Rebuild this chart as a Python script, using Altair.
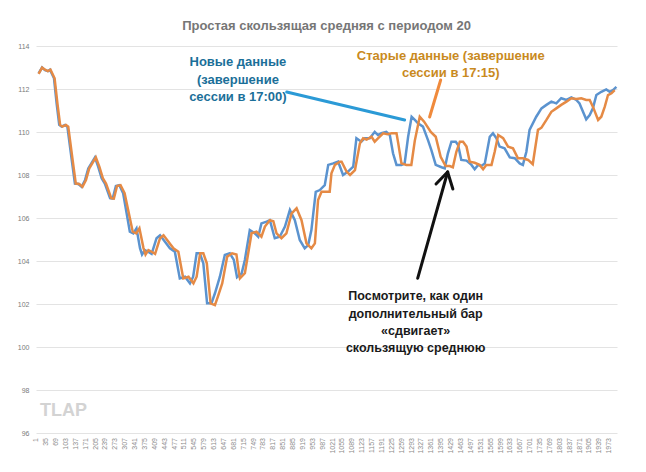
import altair as alt
import pandas as pd

# ---- data (bar index, SMA value) ----
blue_bar = [9, 21, 31, 41, 48, 62, 71, 80, 88, 100, 108, 123, 134, 146, 157, 169, 180, 203, 214, 226,
            237, 255, 264, 275, 287, 300, 323, 335, 346, 358, 365, 375, 386, 398, 415, 427, 444, 461, 478, 495,
            513, 530, 541, 553, 564, 576, 589, 604, 616, 633, 650, 667, 681, 692, 708, 719, 736, 753, 765, 776,
            794, 805, 822, 839, 857, 874, 891, 908, 925, 937, 948, 963, 977, 994, 1006, 1023, 1040, 1057, 1074, 1092,
            1103, 1120, 1132, 1149, 1166, 1177, 1189, 1206, 1218, 1229, 1241, 1258, 1269, 1281, 1293, 1304, 1315, 1332, 1350, 1361,
            1376, 1396, 1407, 1418, 1430, 1445, 1453, 1464, 1482, 1499, 1510, 1522, 1533, 1545, 1562, 1573, 1585, 1596, 1613, 1631,
            1648, 1665, 1676, 1688, 1699, 1722, 1740, 1757, 1774, 1791, 1808, 1826, 1843, 1860, 1871, 1883, 1894, 1906, 1917, 1929,
            1946, 1963, 1975, 1986, 1998]
blue_val = [112.73, 113.0, 112.88, 112.83, 112.9, 112.5, 111.33, 110.33, 110.25, 110.33, 110.25, 108.7, 107.6, 107.58, 107.45, 107.77, 108.3, 108.82, 108.39, 107.85,
            107.6, 106.92, 106.9, 107.49, 107.53, 107.15, 105.36, 105.28, 105.52, 104.6, 104.3, 104.51, 104.43, 104.33, 105.06, 105.2, 104.9, 104.59, 104.43, 103.19,
            103.27, 102.96, 103.27, 104.36, 104.36, 103.89, 102.03, 102.03, 102.5, 103.27, 104.28, 104.36, 104.05, 103.25, 103.43, 104.05, 105.44, 105.29, 105.13, 105.75,
            105.83, 105.9, 105.06, 105.13, 105.6, 106.37, 105.9, 104.98, 104.59, 104.74, 105.44, 107.22, 107.3, 107.53, 108.47, 108.54, 108.62, 108.0, 108.16, 108.39,
            109.71, 109.55, 109.71, 109.71, 110.01, 109.86, 109.94, 110.01, 109.86, 109.01, 108.47, 108.47, 108.54, 109.78, 110.71, 110.56, 110.4, 110.25, 109.6, 109.16,
            108.47, 108.36, 108.31, 109.01, 109.55, 109.55, 109.4, 108.7, 108.67, 108.47, 108.27, 108.47, 108.42, 108.54, 109.78, 109.94, 109.71, 109.32, 109.24, 108.82,
            108.78, 108.54, 108.47, 109.08, 110.1, 110.71, 111.1, 111.26, 111.41, 111.33, 111.57, 111.49, 111.61, 111.49, 111.33, 110.94, 110.59, 110.79, 111.1, 111.72,
            111.87, 111.98, 111.87, 111.95, 112.1]

orange_bar = [9, 21, 31, 41, 50, 64, 74, 83, 91, 103, 111, 126, 137, 149, 160, 172, 183, 206, 218, 230,
              241, 259, 268, 279, 291, 305, 333, 345, 356, 370, 377, 387, 398, 410, 427, 439, 456, 473, 490, 507,
              525, 542, 553, 565, 576, 588, 601, 616, 626, 641, 658, 675, 690, 697, 702, 719, 742, 759, 776, 788,
              805, 817, 828, 845, 862, 880, 897, 914, 931, 948, 960, 971, 983, 1000, 1011, 1017, 1029, 1046, 1052, 1069,
              1081, 1098, 1115, 1126, 1138, 1155, 1166, 1178, 1195, 1210, 1224, 1241, 1247, 1258, 1275, 1292, 1304, 1321, 1336, 1359,
              1376, 1393, 1410, 1424, 1435, 1447, 1459, 1470, 1482, 1493, 1510, 1527, 1539, 1550, 1568, 1579, 1591, 1608, 1625, 1642,
              1659, 1676, 1694, 1710, 1728, 1740, 1757, 1774, 1791, 1808, 1826, 1843, 1860, 1877, 1894, 1906, 1917, 1935, 1946, 1958,
              1969, 1981, 1992]
orange_val = [112.7, 113.0, 112.9, 112.83, 112.9, 112.5, 111.3, 110.33, 110.25, 110.33, 110.25, 108.7, 107.6, 107.58, 107.45, 107.77, 108.3, 108.82, 108.39, 107.85,
              107.6, 106.92, 106.9, 107.49, 107.53, 107.15, 105.36, 105.28, 105.52, 104.6, 104.3, 104.51, 104.43, 104.33, 105.06, 105.2, 104.9, 104.59, 104.43, 103.19,
              103.27, 102.96, 103.27, 104.36, 104.36, 103.89, 102.03, 101.95, 102.34, 102.96, 104.2, 104.36, 104.3, 103.6, 103.19, 103.43, 105.29, 105.36, 105.13, 105.6,
              105.9, 105.85, 105.29, 105.06, 105.29, 106.22, 106.45, 105.9, 104.82, 104.59, 104.82, 106.84, 107.22, 107.22, 107.22, 108.08, 108.47, 108.62, 108.62, 108.16,
              108.0, 108.23, 109.47, 109.71, 109.65, 109.78, 109.55, 109.71, 109.94, 109.9, 109.94, 109.94, 109.47, 108.54, 108.47, 108.47, 109.6, 110.71, 110.48, 110.0,
              109.78, 108.85, 108.42, 108.42, 108.36, 109.08, 109.55, 109.55, 109.32, 108.62, 108.57, 108.47, 108.27, 108.47, 108.47, 109.08, 109.86, 109.71, 109.32, 109.24,
              108.78, 108.78, 108.7, 108.5, 110.1, 110.2, 110.56, 110.94, 111.1, 111.26, 111.41, 111.57, 111.53, 111.57, 111.49, 111.49, 111.18, 110.56, 110.71, 111.18,
              111.72, 111.8, 111.95]

x_tick_labels = list(range(1, 1974, 34))
y_ticks = [96, 98, 100, 102, 104, 106, 108, 110, 112, 114]

title_text = "Простая скользящая средняя с периодом 20"
blue_note = ["Новые данные", "(завершение", "сессии в 17:00)"]
orange_note = ["Старые данные (завершение", "сессии в 17:15)"]
black_note = ["Посмотрите, как один", "дополнительный бар", "«сдвигает»", "скользящую среднюю"]

FONT = "Liberation Sans"
BLUE = "#5b93cf"
ORANGE = "#e58a45"

blue_df = pd.DataFrame({"bar": blue_bar, "val": blue_val})
orange_df = pd.DataFrame({"bar": orange_bar, "val": orange_val})

xscale = alt.Scale(domain=[0, 2000], nice=False, zero=False)
yscale = alt.Scale(domain=[96, 114], nice=False, zero=False)

y_axis = alt.Axis(values=y_ticks, labelFontSize=7, labelColor="#7a7a7a", labelFont=FONT,
                  grid=True, gridColor="#e3e3e3", gridWidth=1, domain=False, ticks=False,
                  title=None, labelPadding=7)

base_blue = alt.Chart(blue_df).mark_line(color=BLUE, strokeWidth=2.5).encode(
    x=alt.X("bar:Q", scale=xscale, axis=None),
    y=alt.Y("val:Q", scale=yscale, axis=y_axis),
)
base_orange = alt.Chart(orange_df).mark_line(color=ORANGE, strokeWidth=2.5).encode(
    x=alt.X("bar:Q", scale=xscale),
    y=alt.Y("val:Q", scale=yscale),
)

# category labels along the bottom (rotated), drawn through the x scale
xlab_df = pd.DataFrame({"bar": x_tick_labels, "lab": [str(v) for v in x_tick_labels], "y": [96] * len(x_tick_labels)})
x_labels = alt.Chart(xlab_df).mark_text(font=FONT, fontSize=7, color="#8a8a8a", angle=270,
                                         align="right", baseline="middle", dx=-5).encode(
    x=alt.X("bar:Q", scale=xscale), y=alt.Y("y:Q", scale=yscale), text="lab:N")

# annotation pointers (data coordinates)
ptr_df = pd.DataFrame({
    "x": [863, 1355, 1314, 1417, 1417],
    "y": [111.86, 110.7, 103.2, 108.14, 108.14],
    "x2": [1269, 1393, 1417, 1377, 1435],
    "y2": [110.56, 112.42, 108.14, 107.58, 107.35],
    "c": ["b", "o", "k", "k", "k"],
})
pointers = alt.Chart(ptr_df).mark_rule(strokeWidth=3, strokeCap="round").encode(
    x=alt.X("x:Q", scale=xscale), y=alt.Y("y:Q", scale=yscale),
    x2="x2:Q", y2="y2:Q",
    color=alt.Color("c:N", scale=alt.Scale(domain=["b", "o", "k"], range=["#2b9ad6", "#f08a3c", "#111111"]), legend=None),
)

def note(lines, xs, ys, color, size):
    df = pd.DataFrame({"x": xs, "y": ys, "t": lines})
    return alt.Chart(df).mark_text(font=FONT, fontWeight="bold", fontSize=size, color=color,
                                   align="center", baseline="middle").encode(
        x=alt.X("x:Q", scale=xscale), y=alt.Y("y:Q", scale=yscale), text="t:N")

blue_txt = note(blue_note, [695, 695, 695], [113.256, 112.419, 111.628], "#1b6f99", 13)
orange_txt = note(orange_note, [1428, 1428], [113.535, 112.744], "#c98a1e", 13)
black_txt = note(black_note, [1307, 1307, 1307, 1307], [102.372, 101.535, 100.744, 99.953], "#1a1a1a", 12.5)

wm_df = pd.DataFrame({"x": [14], "y": [97.02], "t": ["TLAP"]})
watermark = alt.Chart(wm_df).mark_text(font=FONT, fontWeight="bold", fontSize=18, color="#d3d3d3",
                                       align="left", baseline="middle").encode(
    x=alt.X("x:Q", scale=xscale), y=alt.Y("y:Q", scale=yscale), text="t:N")

chart = alt.layer(base_blue, base_orange, x_labels, pointers, blue_txt, orange_txt, black_txt, watermark).properties(
    width=581, height=387,
    title=alt.TitleParams(title_text, font=FONT, fontSize=13, fontWeight="bold", color="#767676",
                          anchor="middle", offset=9),
    autosize=alt.AutoSizeParams(type="none"),
    padding={"left": 36, "top": 46, "right": 29, "bottom": 39},
    background="white",
).configure_view(stroke=None)

chart.save("out.html", embed_options={"renderer": "svg", "actions": False})
